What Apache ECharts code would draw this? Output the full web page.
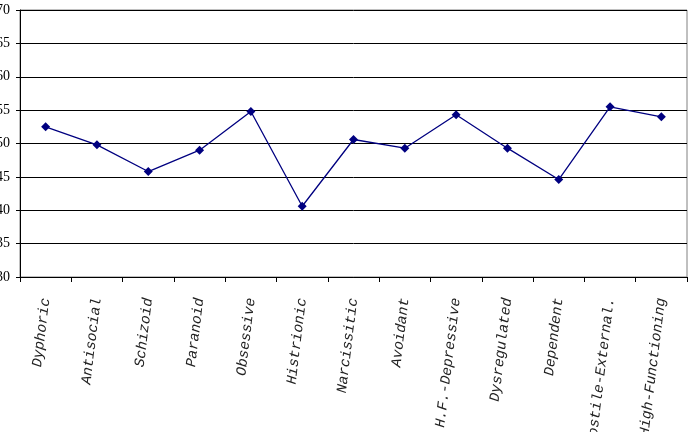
<!DOCTYPE html>
<html>
<head>
<meta charset="utf-8">
<script src="https://cdn.jsdelivr.net/npm/echarts@6/dist/echarts.min.js"></script>
<style>html,body{margin:0;padding:0;background:#fff;}#c{width:692px;height:432px;}</style>
</head>
<body>
<div id="c"></div>
<script>
const categories = ["Dyphoric","Antisocial","Schizoid","Paranoid","Obsessive","Histrionic","Narcissitic","Avoidant","H.F.-Depressive","Dysregulated","Dependent","Hostile-External.","High-Functioning"];
const values = [52.5, 49.8, 45.8, 49.0, 54.8, 40.6, 50.6, 49.3, 54.3, 49.3, 44.6, 55.5, 54.0];
const yMin = 30, yMax = 70, yStep = 5;

const chart = echarts.init(document.getElementById('c'), null, {renderer:'canvas'});
chart.setOption({
  animation: false,
  backgroundColor: '#fff',
  grid: {left: 20, right: 5, top: 10, bottom: 155, containLabel: false, outerBoundsMode: 'none', show: true, borderColor: '#808080', borderWidth: 1, backgroundColor: 'transparent'},
  xAxis: {
    type: 'category',
    data: categories,
    boundaryGap: true,
    axisLine: {lineStyle: {color: '#000', width: 1}},
    axisTick: {show: true, inside: false, length: 5, lineStyle: {color: '#000'}},
    axisLabel: {rotate: 83, margin: 21, interval: 0, hideOverlap: false, color: '#222', fontFamily: '"Liberation Mono", "Courier New", monospace', fontStyle: 'italic', fontSize: 14.5}
  },
  yAxis: {
    type: 'value',
    min: yMin, max: yMax, interval: yStep,
    axisLine: {show: true, lineStyle: {color: '#000', width: 1}},
    axisTick: {show: true, length: 4, lineStyle: {color: '#000'}},
    axisLabel: {margin: 10, color: '#000', fontFamily: '"Liberation Serif", "Times New Roman", serif', fontSize: 14},
    splitLine: {show: true, lineStyle: {color: '#000', width: 1}}
  },
  series: [{
    type: 'line',
    data: values,
    symbol: 'diamond',
    symbolSize: 9,
    lineStyle: {color: '#000080', width: 1.3},
    itemStyle: {color: '#000080'}
  }]
});
</script>
</body>
</html>
